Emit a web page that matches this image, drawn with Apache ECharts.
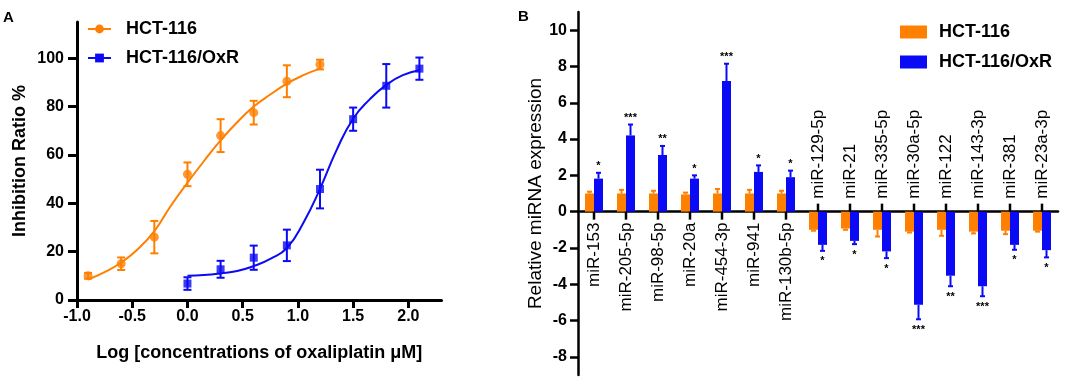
<!DOCTYPE html>
<html>
<head>
  <meta charset="utf-8">
  <style>
    html, body { margin: 0; padding: 0; width: 100%; height: 100%; overflow: hidden; background: #fff; }
  </style>
  <script src="https://cdn.jsdelivr.net/npm/echarts@6/dist/echarts.min.js"></script>
</head>
<body>
  <div id="container" style="width:1084px;height:387px;"></div>
  <script>
    // ---- panel A : dose response ----
    var hctX = [-0.9, -0.6, -0.3, 0, 0.3, 0.6, 0.9, 1.2];
    var hctMean = [10, 15, 26, 52, 68, 77.5, 90.5, 97.4];
    var hctErr = [1.2, 2.6, 6.7, 4.9, 6.8, 4.9, 6.6, 2];
    var oxrX = [0, 0.3, 0.6, 0.9, 1.2, 1.5, 1.8, 2.1];
    var oxrMean = [6.8, 12.7, 17.5, 22.6, 45.9, 74.8, 88.6, 95.7];
    var oxrErr = [2.6, 3.5, 5, 6.5, 8, 4.8, 9, 4.6];
    // fitted curves
    var hctFitX = [-0.9, -0.75, -0.6, -0.45, -0.3, -0.15, 0, 0.15, 0.3, 0.45, 0.6, 0.75, 0.9, 1.05, 1.2];
    var hctFitY = [8.5, 11.5, 15.5, 21, 28.5, 39, 48.5, 57.5, 66, 73.5, 80, 85, 89.5, 93, 95.7];
    var oxrFitX = [0, 0.15, 0.3, 0.45, 0.6, 0.75, 0.9, 1.05, 1.2, 1.35, 1.5, 1.65, 1.8, 1.95, 2.1];
    var oxrFitY = [10, 10.3, 11, 12, 14, 17, 21.5, 32, 46, 62, 75, 83, 89, 93, 95];
    var doseTicks = [-1, -0.5, 0, 0.5, 1, 1.5, 2];
    var ratioTicks = [0, 20, 40, 60, 80, 100];

    // ---- panel B : miRNA expression ----
    var mirNames = ['miR-153', 'miR-205-5p', 'miR-98-5p', 'miR-20a', 'miR-454-3p', 'miR-941', 'miR-130b-5p',
      'miR-129-5p', 'miR-21', 'miR-335-5p', 'miR-30a-5p', 'miR-122', 'miR-143-3p', 'miR-381', 'miR-23a-3p'];
    var hctExpr = [1, 1, 1, 0.95, 1, 1, 1, -1, -0.93, -1, -1.1, -1, -1.1, -1.05, -1.05];
    var hctExprErr = [0.1, 0.2, 0.15, 0.1, 0.25, 0.2, 0.15, 0.05, 0.07, 0.37, 0.05, 0.33, 0.1, 0.19, 0.05];
    var oxrExpr = [1.82, 4.2, 3.12, 1.82, 7.2, 2.19, 1.9, -1.83, -1.61, -2.19, -5.13, -3.53, -4.11, -1.83, -2.12];
    var oxrExprErr = [0.32, 0.6, 0.5, 0.18, 0.95, 0.36, 0.36, 0.33, 0.18, 0.37, 0.8, 0.58, 0.55, 0.27, 0.4];
    var stars = ['*', '***', '**', '*', '***', '*', '*', '*', '*', '*', '***', '**', '***', '*', '*'];
    var exprTicks = [-8, -6, -4, -2, 0, 2, 4, 6, 8, 10];

    var orange = '#FF7F00';
    var blue = '#0A0AF5';
    var font = "'Liberation Sans', Arial, sans-serif";

    var myChart = echarts.init(document.getElementById('container'), null, { renderer: 'canvas' });

    function pairs(xs, ys) {
      return xs.map(function (x, i) { return [x, ys[i]]; });
    }
    function errData(xs, m, e) {
      return xs.map(function (x, i) { return [x, m[i] - e[i], m[i] + e[i]]; });
    }

    function doseErrRender(color) {
      return function (params, api) {
        var lo = api.coord([api.value(0), api.value(1)]);
        var hi = api.coord([api.value(0), api.value(2)]);
        var w = 4;
        var st = { stroke: color, lineWidth: 2 };
        return {
          type: 'group', children: [
            { type: 'line', shape: { x1: lo[0], y1: lo[1], x2: hi[0], y2: hi[1] }, style: st },
            { type: 'line', shape: { x1: lo[0] - w, y1: lo[1], x2: lo[0] + w, y2: lo[1] }, style: st },
            { type: 'line', shape: { x1: hi[0] - w, y1: hi[1], x2: hi[0] + w, y2: hi[1] }, style: st }
          ]
        };
      };
    }

    // one-sided error bars on the bars, with stars
    function exprErrRender(color, offset, withStars) {
      return function (params, api) {
        var i = api.value(0);
        var base = api.coord([i, api.value(1)]);
        var end = api.coord([i, api.value(2)]);
        var x = base[0] + offset;
        var st = { stroke: color, lineWidth: 2 };
        var children = [
          { type: 'line', shape: { x1: x, y1: base[1], x2: x, y2: end[1] }, style: st },
          { type: 'line', shape: { x1: x - 2.5, y1: end[1], x2: x + 2.5, y2: end[1] }, style: st }
        ];
        if (withStars) {
          var up = api.value(2) > 0;
          children.push({
            type: 'text',
            style: {
              x: x, y: up ? end[1] - 1 : end[1] + 5,
              text: stars[i], fill: '#000', font: 'bold 11px ' + font,
              align: 'center', verticalAlign: up ? 'bottom' : 'top'
            }
          });
        }
        return { type: 'group', children: children };
      };
    }

    function exprErrData(m, e) {
      return m.map(function (v, i) { return [i, v, v > 0 ? v + e[i] : v - e[i]]; });
    }

    // category ticks + rotated names sit on the zero line: below it for up-regulated, above for down
    function catLabelRender(params, api) {
      var i = api.value(0);
      var p = api.coord([i, 0]);
      var up = oxrExpr[i] > 0;
      var dir = up ? 1 : -1;
      return {
        type: 'group', children: [
          { type: 'line', shape: { x1: p[0], y1: p[1], x2: p[0], y2: p[1] + dir * 8 },
            style: { stroke: '#000', lineWidth: 2.5 } },
          { type: 'text', x: p[0], y: p[1] + (up ? 11 : -13), rotation: Math.PI / 2,
            style: { text: mirNames[i], fill: '#000', font: '17px ' + font,
              align: up ? 'right' : 'left', verticalAlign: 'middle' } }
        ]
      };
    }

    var option = {
      animation: false,
      textStyle: { fontFamily: font },
      title: [
        { text: 'A', left: 3, top: 10, padding: 0, textStyle: { fontSize: 15, fontWeight: 'bold', fontFamily: font, color: '#000' } },
        { text: 'B', left: 518, top: 9, padding: 0, textStyle: { fontSize: 15, fontWeight: 'bold', fontFamily: font, color: '#000' } }
      ],
      legend: [{
        data: ['HCT-116', 'HCT-116/OxR'],
        orient: 'vertical',
        left: 87, top: 20, padding: 0,
        itemWidth: 23, itemHeight: 11, itemGap: 11,
        textStyle: { fontSize: 18, fontWeight: 'bold', color: '#000', lineHeight: 18, padding: [0, 0, 0, 10] }
      }, {
        data: ['B:HCT-116', 'B:HCT-116/OxR'],
        orient: 'vertical',
        left: 900, top: 23, padding: 0,
        icon: 'rect',
        itemWidth: 27, itemHeight: 13, itemGap: 12,
        formatter: function (n) { return n.replace('B:', ''); },
        textStyle: { fontSize: 18, fontWeight: 'bold', color: '#000', lineHeight: 18, padding: [0, 0, 0, 7] }
      }],
      grid: [
        { left: 77, top: 22, width: 364.5, height: 278, outerBoundsMode: 'none' },
        { left: 578, top: 12, width: 480, height: 363, outerBoundsMode: 'none' }
      ],
      xAxis: [{
        gridIndex: 0, type: 'value', min: -1, max: 2.3,
        name: 'Log [concentrations of oxaliplatin \u03bcM]',
        nameLocation: 'middle', nameGap: 44,
        nameTextStyle: { fontSize: 18, fontWeight: 'bold', color: '#000' },
        axisLine: { onZero: false, lineStyle: { color: '#000', width: 3 } },
        axisTick: { length: 8, lineStyle: { width: 3, color: '#000' }, customValues: doseTicks },
        axisLabel: {
          customValues: doseTicks, margin: 9, fontSize: 16, fontWeight: 'bold', color: '#000',
          formatter: function (v) { return v.toFixed(1); }
        },
        splitLine: { show: false }
      }, {
        gridIndex: 1, type: 'category', data: mirNames,
        axisLine: { onZero: true, lineStyle: { color: '#000', width: 2.5 } },
        axisTick: { show: false },
        axisLabel: { show: false }
      }],
      yAxis: [{
        gridIndex: 0, type: 'value', min: 0, max: 115,
        name: 'Inhibition Ratio %', nameLocation: 'middle', nameGap: 48,
        nameTextStyle: { fontSize: 18, fontWeight: 'bold', color: '#000' },
        axisLine: { show: true, onZero: false, lineStyle: { color: '#000', width: 3 } },
        axisTick: { show: true, length: 9, lineStyle: { width: 3, color: '#000' }, customValues: ratioTicks },
        axisLabel: { customValues: ratioTicks, margin: 13, fontSize: 16, fontWeight: 'bold', color: '#000' },
        splitLine: { show: false }
      }, {
        gridIndex: 1, type: 'value', min: -9, max: 11,
        name: 'Relative miRNA expression', nameLocation: 'middle', nameGap: 33,
        nameTextStyle: { fontSize: 19, color: '#000' },
        axisLine: { show: true, lineStyle: { color: '#000', width: 2.5 } },
        axisTick: { show: true, length: 8, lineStyle: { width: 2.5, color: '#000' }, customValues: exprTicks },
        axisLabel: { customValues: exprTicks, margin: 11, fontSize: 16, fontWeight: 'bold', color: '#000' },
        splitLine: { show: false }
      }],
      series: [{
        name: 'HCT-116', type: 'line', xAxisIndex: 0, yAxisIndex: 0,
        data: pairs(hctFitX, hctFitY), smooth: true, symbol: 'circle', showSymbol: false,
        lineStyle: { color: orange, width: 2 }, itemStyle: { color: orange }
      }, {
        name: 'HCT-116/OxR', type: 'line', xAxisIndex: 0, yAxisIndex: 0,
        data: pairs(oxrFitX, oxrFitY), smooth: true, symbol: 'rect', showSymbol: false,
        lineStyle: { color: blue, width: 2 }, itemStyle: { color: blue }
      }, {
        name: 'hct-err', type: 'custom', xAxisIndex: 0, yAxisIndex: 0,
        data: errData(hctX, hctMean, hctErr), renderItem: doseErrRender(orange)
      }, {
        name: 'oxr-err', type: 'custom', xAxisIndex: 0, yAxisIndex: 0,
        data: errData(oxrX, oxrMean, oxrErr), renderItem: doseErrRender(blue)
      }, {
        name: 'hct-pts', type: 'scatter', xAxisIndex: 0, yAxisIndex: 0,
        data: pairs(hctX, hctMean), symbol: 'circle', symbolSize: 9, itemStyle: { color: orange }
      }, {
        name: 'oxr-pts', type: 'scatter', xAxisIndex: 0, yAxisIndex: 0,
        data: pairs(oxrX, oxrMean), symbol: 'rect', symbolSize: 8, itemStyle: { color: blue }
      }, {
        name: 'B:HCT-116', type: 'bar', xAxisIndex: 1, yAxisIndex: 1,
        data: hctExpr, barWidth: 9, barGap: '0%', itemStyle: { color: orange }
      }, {
        name: 'B:HCT-116/OxR', type: 'bar', xAxisIndex: 1, yAxisIndex: 1,
        data: oxrExpr, barWidth: 9, barGap: '0%', itemStyle: { color: blue }
      }, {
        name: 'hct-expr-err', type: 'custom', xAxisIndex: 1, yAxisIndex: 1, z: 3,
        data: exprErrData(hctExpr, hctExprErr), renderItem: exprErrRender(orange, -4.5, false)
      }, {
        name: 'oxr-expr-err', type: 'custom', xAxisIndex: 1, yAxisIndex: 1, z: 3,
        data: exprErrData(oxrExpr, oxrExprErr), renderItem: exprErrRender(blue, 4.5, true)
      }, {
        name: 'cat-labels', type: 'custom', xAxisIndex: 1, yAxisIndex: 1, z: 4,
        data: mirNames.map(function (n, i) { return [i]; }), renderItem: catLabelRender
      }]
    };

    myChart.setOption(option);
    window.addEventListener('resize', myChart.resize);
  </script>
</body>
</html>
